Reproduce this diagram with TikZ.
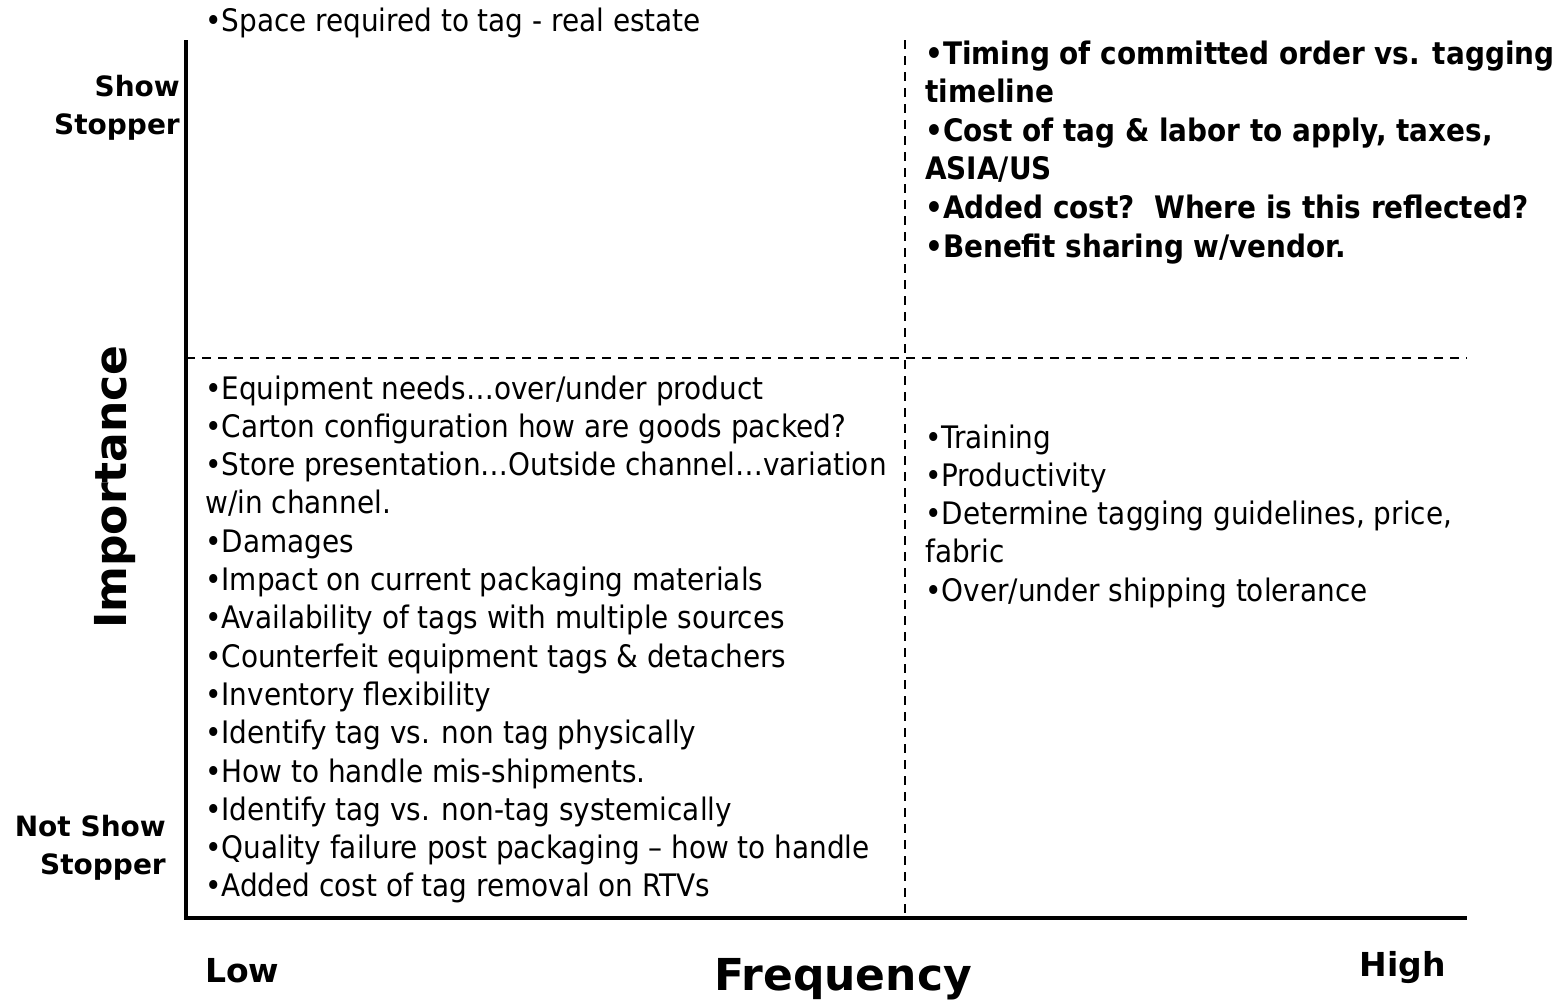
\documentclass[tikz,border=0pt]{standalone}
\usepackage{fontspec}
\setmainfont{DejaVu Sans}
\newfontfamily\condf{DejaVu Sans Condensed}
\begin{document}
\begin{tikzpicture}[x=1pt,y=-1pt,
  item/.style={anchor=base west,inner sep=0pt,font=\condf\fontsize{31}{37}\selectfont},
  bitem/.style={anchor=base west,inner sep=0pt,font=\condf\fontsize{31}{37}\selectfont\bfseries},
  axlab/.style={inner sep=0pt,font=\fontsize{28}{38}\selectfont\bfseries,align=right},
  axis/.style={line width=4pt},
  grid/.style={line width=2.6pt,dash pattern=on 9pt off 7pt}]
\useasboundingbox (0,0) rectangle (1562,1001);
% axes
\coordinate (top) at (186,40);
\coordinate (orig) at (186,918);
\coordinate (right) at (1467,918);
\coordinate (mt) at (905,40);
\coordinate (mb) at (905,918);
\coordinate (ml) at (186,358);
\coordinate (mr) at (1467,358);
\draw[grid] (ml) -- (mr);
\draw[grid] (mt) -- (mb);
\draw[axis] (top) -- (orig) -- (right);
% axis labels
\node[axlab,anchor=east] (ss) at (180,108) {Show\\Stopper};
\node[axlab,anchor=east] (nss) at (166,848) {Not Show\\Stopper};
\node[inner sep=0pt,font=\fontsize{44}{50}\selectfont\bfseries,rotate=90] (imp) at (115,487) {Importance};
\node[inner sep=0pt,font=\fontsize{33}{38}\selectfont\bfseries,anchor=base west] (low) at (205,982) {Low};
\node[inner sep=0pt,font=\fontsize{33}{38}\selectfont\bfseries,anchor=base east] (high) at (1446,976) {High};
\node[inner sep=0pt,font=\fontsize{44}{50}\selectfont\bfseries,anchor=base] (freq) at (843,990) {Frequency};
% top-left
\node[item] (sp) at (205,31) {•Space required to tag - real estate};
% top-right
\foreach \t [count=\i] in {{•Timing of committed order vs. tagging},{timeline},{•Cost of tag \& labor to apply, taxes,},{ASIA/US},{•Added cost?\ \ Where is this reflected?},{•Benefit sharing w/vendor.}}
  \node[bitem] (tr\i) at (925,{64+38.6*(\i-1)}) {\t};
% bottom-left
\foreach \t [count=\i] in {{•Equipment needs…over/under product},{•Carton configuration how are goods packed?},{•Store presentation…Outside channel…variation},{w/in channel.},{•Damages},{•Impact on current packaging materials},{•Availability of tags with multiple sources},{•Counterfeit equipment tags \& detachers},{•Inventory flexibility},{•Identify tag vs. non tag physically},{•How to handle mis-shipments.},{•Identify tag vs. non-tag systemically},{•Quality failure post packaging – how to handle},{•Added cost of tag removal on RTVs}}
  \node[item] (bl\i) at (205,{399+38.3*(\i-1)}) {\t};
% bottom-right
\foreach \t [count=\i] in {{•Training},{•Productivity},{•Determine tagging guidelines, price,},{fabric},{•Over/under shipping tolerance}}
  \node[item] (br\i) at (925,{448+38.3*(\i-1)}) {\t};
\end{tikzpicture}
\end{document}
